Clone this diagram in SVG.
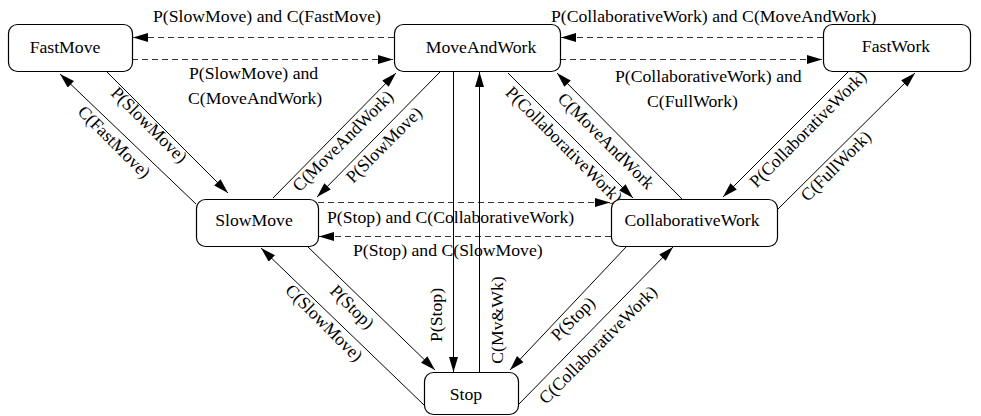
<svg xmlns="http://www.w3.org/2000/svg" width="981" height="416" viewBox="0 0 981 416">
<style>
  text { font-family: "Liberation Serif", "Times New Roman", serif; font-size: 17.7px; fill: #000; }
  .node rect { fill: #fff; stroke: #000; stroke-width: 1.2; }
  .node text { text-anchor: middle; }
  .lbl { text-anchor: middle; }
  .lbls { text-anchor: start; }
  .solid { fill: none; stroke: #000; stroke-width: 1; marker-end: url(#arr); }
  .dash { fill: none; stroke: #333; stroke-width: 1.2; stroke-dasharray: 6 4; marker-end: url(#arr); }
</style>
<defs>
  <marker id="arr" markerUnits="userSpaceOnUse" markerWidth="16" markerHeight="10" refX="15" refY="4.5" orient="auto">
    <path d="M0,0 L15,4.5 L0,9 z" fill="#000"/>
  </marker>
</defs>
<rect width="981" height="416" fill="#fff"/>
<g id="connectors">
  <path class="dash" d="M394,37.5 L133,37.5"/>
  <path class="dash" d="M132,59.5 L393,59.5"/>
  <path class="dash" d="M823,37.5 L561,37.5"/>
  <path class="dash" d="M560,59.5 L822,59.5"/>
  <path class="dash" d="M318,202.5 L610,202.5"/>
  <path class="dash" d="M611,236.5 L319,236.5"/>
  <path class="solid" d="M107,72 L228,193"/>
  <path class="solid" d="M196,204 L60,74"/>
  <path class="solid" d="M273,198 L396,73"/>
  <path class="solid" d="M440,72 L317,197"/>
  <path class="solid" d="M453.5,72 L453.5,372"/>
  <path class="solid" d="M479.5,372 L479.5,72"/>
  <path class="solid" d="M424,405 L261,248"/>
  <path class="solid" d="M307,246 L435,370"/>
  <path class="solid" d="M508,73 L633,198"/>
  <path class="solid" d="M682,199 L557,73"/>
  <path class="solid" d="M848,72 L723,197"/>
  <path class="solid" d="M777,210 L915,73"/>
  <path class="solid" d="M518,405 L673,247"/>
  <path class="solid" d="M627,246 L510,370"/>
  <text class="lbls" x="153" y="22">P(SlowMove) and C(FastMove)</text>
  <text class="lbls" x="189" y="79">P(SlowMove) and</text>
  <text class="lbls" x="188" y="104">C(MoveAndWork)</text>
  <text class="lbls" x="551" y="22">P(CollaborativeWork) and C(MoveAndWork)</text>
  <text class="lbls" x="615" y="82">P(CollaborativeWork) and</text>
  <text class="lbls" x="647" y="107">C(FullWork)</text>
  <text class="lbls" x="327" y="223">P(Stop) and C(CollaborativeWork)</text>
  <text class="lbls" x="353" y="256">P(Stop) and C(SlowMove)</text>
  <text class="lbl" transform="translate(145,129) rotate(45)">P(SlowMove)</text>
  <text class="lbl" transform="translate(110,146) rotate(45)">C(FastMove)</text>
  <text class="lbl" transform="translate(347,145) rotate(-45)">C(MoveAndWork)</text>
  <text class="lbl" transform="translate(388,149) rotate(-45)">P(SlowMove)</text>
  <text class="lbl" transform="translate(442,315) rotate(-90)">P(Stop)</text>
  <text class="lbl" transform="translate(503,320) rotate(-90)">C(Mv&amp;Wk)</text>
  <text class="lbl" transform="translate(320,327) rotate(45)">C(SlowMove)</text>
  <text class="lbl" transform="translate(348,311) rotate(45)">P(Stop)</text>
  <text class="lbl" transform="translate(560,149) rotate(45)">P(CollaborativeWork)</text>
  <text class="lbl" transform="translate(602,145) rotate(45)">C(MoveAndWork</text>
  <text class="lbl" transform="translate(812,133) rotate(-45)">P(CollaborativeWork)</text>
  <text class="lbl" transform="translate(840,170) rotate(-45)">C(FullWork)</text>
  <text class="lbl" transform="translate(602,349) rotate(-45)">C(CollaborativeWork)</text>
  <text class="lbl" transform="translate(577,323) rotate(-45)">P(Stop)</text>
</g>
<g id="FastMove" class="node">
  <rect x="8.5" y="24.5" width="124" height="47" rx="9"/>
  <text x="65" y="53">FastMove</text>
</g>
<g id="MoveAndWork" class="node">
  <rect x="394.5" y="24.5" width="166" height="47" rx="9"/>
  <text x="481" y="53">MoveAndWork</text>
</g>
<g id="FastWork" class="node">
  <rect x="823.5" y="24.5" width="147" height="47" rx="9"/>
  <text x="896" y="52">FastWork</text>
</g>
<g id="SlowMove" class="node">
  <rect x="196.5" y="199.5" width="122" height="47" rx="9"/>
  <text x="254" y="226">SlowMove</text>
</g>
<g id="CollaborativeWork" class="node">
  <rect x="611.5" y="199.5" width="166" height="47" rx="9"/>
  <text x="692" y="226">CollaborativeWork</text>
</g>
<g id="Stop" class="node">
  <rect x="424.5" y="372.5" width="94" height="42" rx="9"/>
  <text x="466" y="400">Stop</text>
</g>
</svg>
